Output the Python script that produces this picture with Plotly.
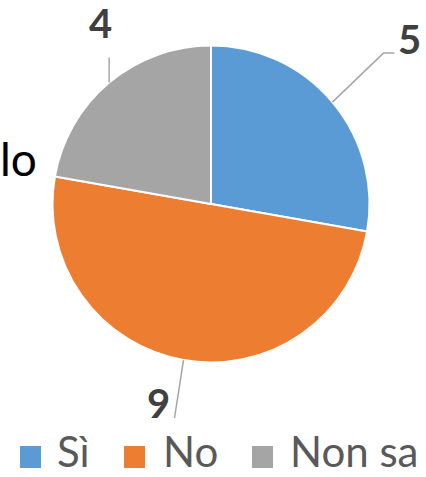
import math
import plotly.graph_objects as go

categories = ["Sì", "No", "Non sa"]
values = [5, 9, 4]
colors = ["#5B9BD5", "#ED7D31", "#A5A5A5"]

W, H = 426, 477
CX, CY, R = 211, 204, 158.5  # pie centre / radius in pixels (from top-left)

def px(x):
    return x / W

def py(y):
    return 1 - y / H

fig = go.Figure()
fig.add_trace(go.Pie(
    labels=categories,
    values=values,
    sort=False,
    direction="clockwise",
    rotation=0,
    marker=dict(colors=colors, line=dict(color="white", width=2)),
    textinfo="none",
    hoverinfo="label+value",
    showlegend=False,
    domain=dict(x=[px(CX - R), px(CX + R)], y=[py(CY + R), py(CY - R)]),
))

total = sum(values)
# per-slice manual offsets (leader segments relative to slice edge, label relative to leader end)
leader_style = {
    "Sì": dict(seg=[(51, -49), (62, -49)], lab=(15, -14)),
    "No": dict(seg=[(-9, 58)], lab=(-16, -15)),
    "Non sa": dict(seg=[(0, -25)], lab=(-9, -35)),
}
shapes = []
annotations = []
cum = 0
for cat, v in zip(categories, values):
    mid = (cum + v / 2) / total * 2 * math.pi
    cum += v
    ex = CX + R * math.sin(mid)
    ey = CY - R * math.cos(mid)
    st = leader_style[cat]
    pts = [(ex, ey)] + [(ex + dx, ey + dy) for dx, dy in st["seg"]]
    path = "M " + " L ".join(f"{px(x):.5f},{py(y):.5f}" for x, y in pts)
    shapes.append(dict(type="path", path=path, xref="paper", yref="paper",
                       line=dict(color="#A6A6A6", width=1.5)))
    lx = pts[-1][0] + st["lab"][0]
    ly = pts[-1][1] + st["lab"][1]
    annotations.append(dict(x=px(lx), y=py(ly), xref="paper", yref="paper",
                            text=f"<b>{v}</b>", showarrow=False,
                            xanchor="center", yanchor="middle",
                            font=dict(family="Lato", size=40, color="#404040")))

# manual legend
leg_sq_x = [20, 124, 252]
leg_txt_x = [56, 162, 289]
for cat, col, sx, tx in zip(categories, colors, leg_sq_x, leg_txt_x):
    shapes.append(dict(type="rect", xref="paper", yref="paper",
                       x0=px(sx), x1=px(sx + 21), y0=py(468), y1=py(446),
                       fillcolor=col, line=dict(width=0)))
    annotations.append(dict(x=px(tx), y=0, xref="paper", yref="paper",
                            text=cat, showarrow=False, xanchor="left", yanchor="bottom",
                            borderpad=0,
                            font=dict(family="Lato", size=42, color="#595959")))

# partially visible text at left edge
annotations.append(dict(x=px(39), y=py(158), xref="paper", yref="paper",
                        text="lo", showarrow=False, xanchor="right", yanchor="middle",
                        font=dict(family="Lato", size=46, color="#000000")))

fig.update_layout(
    width=W, height=H,
    margin=dict(l=0, r=0, t=0, b=0),
    paper_bgcolor="white",
    plot_bgcolor="white",
    shapes=shapes,
    annotations=annotations,
    showlegend=False,
)

fig.write_html("out.html")
